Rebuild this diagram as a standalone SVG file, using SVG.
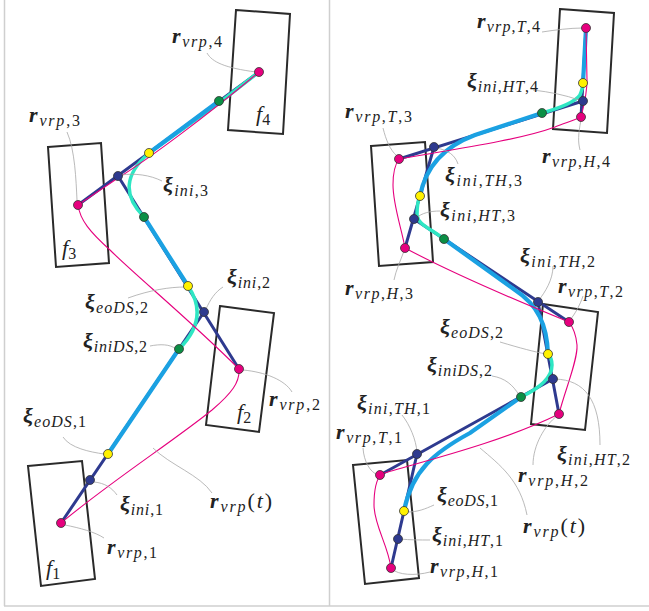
<svg xmlns="http://www.w3.org/2000/svg" width="649" height="611" viewBox="0 0 649 611">
<style>
.frame{stroke:#cfcfcf;stroke-width:1.5;fill:none}
.box{fill:none;stroke:#2a2a2a;stroke-width:2}
.nv{stroke:#2e3a8f;stroke-width:3;fill:none;stroke-linecap:round}
.bl{stroke:#1ba1e2;stroke-width:4.2;fill:none;stroke-linecap:round}
.tq{stroke:#2ee6c3;stroke-width:3.5;fill:none;stroke-linecap:round}
.pk{stroke:#e6007e;stroke-width:1.1;fill:none}
.ld{stroke:#a8a8a8;stroke-width:0.8;fill:none}
.d{stroke:#333;stroke-width:0.8}
.dp{fill:#e6007e}.dn{fill:#2e3a8f}.dy{fill:#fff200}.dg{fill:#0b8f45}
.t{font-family:"Liberation Serif","DejaVu Serif",serif;fill:#222}
.m{font-size:22px;font-weight:bold;font-style:italic}
.s{font-size:16px;font-style:italic;font-weight:normal}
.u{font-size:16px;font-style:normal;font-weight:normal}
.fi{font-size:22px;font-style:italic}
.pu{font-size:22px;font-style:normal;font-weight:normal}
.pi{font-size:22px;font-style:italic;font-weight:normal}
</style>
<rect width="649" height="611" fill="#fff"/>
<g id="frame">
<line class="frame" x1="4.5" y1="0" x2="4.5" y2="606"/>
<line class="frame" x1="329.5" y1="0" x2="329.5" y2="606"/>
<line class="frame" x1="4" y1="606" x2="649" y2="606"/>
</g>

<g id="L-f4"><polygon class="box" points="236,10 290,14 283,134 228,130"/><text class="t" x="256" y="121"><tspan class="fi">f</tspan><tspan class="u" dy="4">4</tspan></text></g>
<g id="L-f3"><polygon class="box" points="48,147 101,143 109,263 56,267"/><text class="t" x="62" y="255"><tspan class="fi">f</tspan><tspan class="u" dy="4">3</tspan></text></g>
<g id="L-f2"><polygon class="box" points="220,306 274,313 259,432 206,425"/><text class="t" x="237" y="419"><tspan class="fi">f</tspan><tspan class="u" dy="4">2</tspan></text></g>
<g id="L-f1"><polygon class="box" points="28,466 82,461 95,579 41,586"/><text class="t" x="46" y="575"><tspan class="fi">f</tspan><tspan class="u" dy="4">1</tspan></text></g>
<g id="R-f4"><polygon class="box" points="560,9 614,13 607,133 553,129"/></g>
<g id="R-f3"><polygon class="box" points="371,146 425,142 433,262 379,266"/></g>
<g id="R-f2"><polygon class="box" points="543,304 598,312 585,430 531,424"/></g>
<g id="R-f1"><polygon class="box" points="353,465 407,460 419,578 365,584"/></g>

<g id="connectors">
<path class="nv" d="M61,523 L204,312 M239,369 L118,176 M78,205 L259,72"/>
<path class="tq" d="M179,349 Q210,318 188,286 M144,217 Q112,185 149,153 L219,103 L259,72"/>
<path class="bl" d="M108,454 L179,349 M188,286 L144,217 M149,153 L219,101"/>
<path class="pk" d="M61,523 C110,482 175,440 212,410 C232,393 240,382 239,369"/>
<path class="pk" d="M239,369 C190,320 135,275 110,250 C90,232 80,220 78,205"/>
<path class="pk" d="M78,205 L118,178 C150,158 205,117 259,72"/>
<path class="nv" d="M391,568 L417,454 M380,475 L553,379 M559,414 L538,302 M569,322 L414,219 M405,248 L434,147 M399,159 L583,101 M581,117 L586,28"/>
<path class="tq" d="M521,397 C540,388 552,378 552,365 C552,360 550,356 548,354"/>
<path class="tq" d="M444,239 C430,228 418,225 417,215 C417,207 418,200 420,196"/>
<path class="tq" d="M542,113 C560,108 575,102 580,95 C582,90 583,86 583,83"/>
<path class="bl" d="M404,511 C412,470 435,452 470,433 L521,397"/>
<path class="bl" d="M548,354 C547,325 538,305 515,290 L444,239"/>
<path class="bl" d="M420,196 C425,170 440,148 475,135 L542,113"/>
<path class="bl" d="M583,83 L586,28"/>
<path class="pk" d="M391,568 C388,545 374,525 374,505 C374,490 376,480 381,474"/>
<path class="pk" d="M381,474 C420,462 500,443 559,414"/>
<path class="pk" d="M559,414 C565,390 578,360 577,345 C576,333 572,326 569,322"/>
<path class="pk" d="M569,322 C520,302 450,272 405,248"/>
<path class="pk" d="M405,248 C402,230 393,205 393,185 C393,172 396,163 399,159"/>
<path class="pk" d="M399,159 C450,150 520,140 555,127 C565,123 575,120 581,117"/>
<path class="pk" d="M581,117 C584,105 587,95 587,80 L586,28"/>
<path class="ld" d="M207,53 C212,62 225,68 256,72"/>
<path class="ld" d="M67,132 C75,150 76,180 77,200"/>
<path class="ld" d="M162,181 C150,175 135,173 121,175"/>
<path class="ld" d="M223,287 C215,292 210,300 206,309"/>
<path class="ld" d="M128,298 C150,290 170,287 185,287"/>
<path class="ld" d="M150,346 C160,344 170,344 176,349"/>
<path class="ld" d="M243,370 C265,372 285,380 292,392"/>
<path class="ld" d="M63,437 C70,448 90,452 104,454"/>
<path class="ld" d="M94,482 C105,483 112,488 117,495"/>
<path class="ld" d="M65,525 C80,528 95,532 104,538"/>
<path class="ld" d="M153,448 C170,465 200,475 212,493"/>
<path class="ld" d="M542,32 C555,30 570,28 583,28"/>
<path class="ld" d="M533,90 C550,92 565,95 579,100"/>
<path class="ld" d="M581,120 C578,135 578,142 580,150"/>
<path class="ld" d="M383,128 C386,140 390,150 397,156"/>
<path class="ld" d="M436,148 C448,150 455,155 458,164"/>
<path class="ld" d="M416,218 C422,213 430,211 440,211"/>
<path class="ld" d="M404,251 C400,262 396,270 394,280"/>
<path class="ld" d="M553,266 C553,280 545,292 539,300"/>
<path class="ld" d="M583,296 C580,305 575,314 570,320"/>
<path class="ld" d="M500,342 C520,348 535,352 546,354"/>
<path class="ld" d="M492,376 C505,378 513,385 519,395"/>
<path class="ld" d="M555,379 C585,380 600,400 600,445"/>
<path class="ld" d="M557,416 C545,425 533,445 533,465"/>
<path class="ld" d="M402,415 C410,425 416,440 417,452"/>
<path class="ld" d="M363,448 C364,462 370,472 378,475"/>
<path class="ld" d="M407,512 C418,512 425,509 434,505"/>
<path class="ld" d="M400,539 C410,540 420,540 430,540"/>
<path class="ld" d="M392,569 C398,575 415,576 430,572"/>
<path class="ld" d="M480,448 C500,465 520,480 527,515"/>
</g>

<g id="L-rvrp4"><circle class="d dp" cx="259" cy="72" r="4.5"/><text class="t" x="172" y="43" textLength="50" lengthAdjust="spacing"><tspan class="m">r</tspan><tspan class="s" dy="4">vrp</tspan><tspan class="u">,4</tspan></text></g>
<g id="L-rvrp3"><circle class="d dp" cx="78" cy="205" r="4.5"/><text class="t" x="29" y="122" textLength="51" lengthAdjust="spacing"><tspan class="m">r</tspan><tspan class="s" dy="4">vrp</tspan><tspan class="u">,3</tspan></text></g>
<g id="L-rvrp2"><circle class="d dp" cx="239" cy="369" r="4.5"/><text class="t" x="269" y="406" textLength="51" lengthAdjust="spacing"><tspan class="m">r</tspan><tspan class="s" dy="4">vrp</tspan><tspan class="u">,2</tspan></text></g>
<g id="L-rvrp1"><circle class="d dp" cx="61" cy="523" r="4.5"/><text class="t" x="107" y="554" textLength="50" lengthAdjust="spacing"><tspan class="m">r</tspan><tspan class="s" dy="4">vrp</tspan><tspan class="u">,1</tspan></text></g>
<g id="L-xiini3"><circle class="d dn" cx="118" cy="176" r="4.5"/><text class="t" x="163" y="192" textLength="45" lengthAdjust="spacing"><tspan class="m">ξ</tspan><tspan class="s" dy="4">ini</tspan><tspan class="u">,3</tspan></text></g>
<g id="L-xiini2"><circle class="d dn" cx="204" cy="312" r="4.5"/><text class="t" x="227" y="284" textLength="43" lengthAdjust="spacing"><tspan class="m">ξ</tspan><tspan class="s" dy="4">ini</tspan><tspan class="u">,2</tspan></text></g>
<g id="L-xiini1"><circle class="d dn" cx="90" cy="480" r="4.5"/><text class="t" x="120" y="511" textLength="43" lengthAdjust="spacing"><tspan class="m">ξ</tspan><tspan class="s" dy="4">ini</tspan><tspan class="u">,1</tspan></text></g>
<g id="L-xieo3"><circle class="d dy" cx="149" cy="153" r="4.5"/></g>
<g id="L-xieoDS2"><circle class="d dy" cx="188" cy="286" r="4.5"/><text class="t" x="85" y="309" textLength="63" lengthAdjust="spacing"><tspan class="m">ξ</tspan><tspan class="s" dy="4">eoDS</tspan><tspan class="u">,2</tspan></text></g>
<g id="L-xieoDS1"><circle class="d dy" cx="108" cy="454" r="4.5"/><text class="t" x="23" y="423" textLength="63" lengthAdjust="spacing"><tspan class="m">ξ</tspan><tspan class="s" dy="4">eoDS</tspan><tspan class="u">,1</tspan></text></g>
<g id="L-xiiniDS4"><circle class="d dg" cx="219" cy="101" r="4.5"/></g>
<g id="L-xiiniDS3"><circle class="d dg" cx="144" cy="217" r="4.5"/></g>
<g id="L-xiiniDS2"><circle class="d dg" cx="179" cy="349" r="4.5"/><text class="t" x="83" y="348" textLength="64" lengthAdjust="spacing"><tspan class="m">ξ</tspan><tspan class="s" dy="4">iniDS</tspan><tspan class="u">,2</tspan></text></g>
<g id="L-rvrpt"><text class="t" x="210" y="508" textLength="62" lengthAdjust="spacing"><tspan class="m">r</tspan><tspan class="s" dy="4">vrp</tspan><tspan class="pu" dy="-4">(</tspan><tspan class="pi">t</tspan><tspan class="pu">)</tspan></text></g>

<g id="R-rT4"><circle class="d dp" cx="586" cy="28" r="4.5"/><text class="t" x="477" y="28" textLength="63" lengthAdjust="spacing"><tspan class="m">r</tspan><tspan class="s" dy="4">vrp</tspan><tspan class="u">,</tspan><tspan class="s">T</tspan><tspan class="u">,4</tspan></text></g>
<g id="R-rH4"><circle class="d dp" cx="581" cy="117" r="4.5"/><text class="t" x="542" y="163" textLength="68" lengthAdjust="spacing"><tspan class="m">r</tspan><tspan class="s" dy="4">vrp</tspan><tspan class="u">,</tspan><tspan class="s">H</tspan><tspan class="u">,4</tspan></text></g>
<g id="R-rT3"><circle class="d dp" cx="399" cy="159" r="4.5"/><text class="t" x="345" y="118" textLength="67" lengthAdjust="spacing"><tspan class="m">r</tspan><tspan class="s" dy="4">vrp</tspan><tspan class="u">,</tspan><tspan class="s">T</tspan><tspan class="u">,3</tspan></text></g>
<g id="R-rH3"><circle class="d dp" cx="405" cy="248" r="4.5"/><text class="t" x="345" y="295" textLength="68" lengthAdjust="spacing"><tspan class="m">r</tspan><tspan class="s" dy="4">vrp</tspan><tspan class="u">,</tspan><tspan class="s">H</tspan><tspan class="u">,3</tspan></text></g>
<g id="R-rT2"><circle class="d dp" cx="569" cy="322" r="4.5"/><text class="t" x="558" y="293" textLength="65" lengthAdjust="spacing"><tspan class="m">r</tspan><tspan class="s" dy="4">vrp</tspan><tspan class="u">,</tspan><tspan class="s">T</tspan><tspan class="u">,2</tspan></text></g>
<g id="R-rH2"><circle class="d dp" cx="559" cy="414" r="4.5"/><text class="t" x="518" y="482" textLength="70" lengthAdjust="spacing"><tspan class="m">r</tspan><tspan class="s" dy="4">vrp</tspan><tspan class="u">,</tspan><tspan class="s">H</tspan><tspan class="u">,2</tspan></text></g>
<g id="R-rT1"><circle class="d dp" cx="380" cy="475" r="4.5"/><text class="t" x="336" y="439" textLength="66" lengthAdjust="spacing"><tspan class="m">r</tspan><tspan class="s" dy="4">vrp</tspan><tspan class="u">,</tspan><tspan class="s">T</tspan><tspan class="u">,1</tspan></text></g>
<g id="R-rH1"><circle class="d dp" cx="391" cy="568" r="4.5"/><text class="t" x="430" y="573" textLength="68" lengthAdjust="spacing"><tspan class="m">r</tspan><tspan class="s" dy="4">vrp</tspan><tspan class="u">,</tspan><tspan class="s">H</tspan><tspan class="u">,1</tspan></text></g>
<g id="R-xiHT4"><circle class="d dn" cx="583" cy="101" r="4.5"/><text class="t" x="467" y="88" textLength="71" lengthAdjust="spacing"><tspan class="m">ξ</tspan><tspan class="s" dy="4">ini</tspan><tspan class="u">,</tspan><tspan class="s">HT</tspan><tspan class="u">,4</tspan></text></g>
<g id="R-xiTH3"><circle class="d dn" cx="434" cy="147" r="4.5"/><text class="t" x="445" y="182" textLength="77" lengthAdjust="spacing"><tspan class="m">ξ</tspan><tspan class="s" dy="4">ini</tspan><tspan class="u">,</tspan><tspan class="s">TH</tspan><tspan class="u">,3</tspan></text></g>
<g id="R-xiHT3"><circle class="d dn" cx="414" cy="219" r="4.5"/><text class="t" x="440" y="217" textLength="75" lengthAdjust="spacing"><tspan class="m">ξ</tspan><tspan class="s" dy="4">ini</tspan><tspan class="u">,</tspan><tspan class="s">HT</tspan><tspan class="u">,3</tspan></text></g>
<g id="R-xiTH2"><circle class="d dn" cx="538" cy="302" r="4.5"/><text class="t" x="520" y="263" textLength="75" lengthAdjust="spacing"><tspan class="m">ξ</tspan><tspan class="s" dy="4">ini</tspan><tspan class="u">,</tspan><tspan class="s">TH</tspan><tspan class="u">,2</tspan></text></g>
<g id="R-xiHT2"><circle class="d dn" cx="553" cy="379" r="4.5"/><text class="t" x="557" y="461" textLength="73" lengthAdjust="spacing"><tspan class="m">ξ</tspan><tspan class="s" dy="4">ini</tspan><tspan class="u">,</tspan><tspan class="s">HT</tspan><tspan class="u">,2</tspan></text></g>
<g id="R-xiTH1"><circle class="d dn" cx="417" cy="454" r="4.5"/><text class="t" x="357" y="410" textLength="73" lengthAdjust="spacing"><tspan class="m">ξ</tspan><tspan class="s" dy="4">ini</tspan><tspan class="u">,</tspan><tspan class="s">TH</tspan><tspan class="u">,1</tspan></text></g>
<g id="R-xiHT1"><circle class="d dn" cx="398" cy="539" r="4.5"/><text class="t" x="432" y="542" textLength="71" lengthAdjust="spacing"><tspan class="m">ξ</tspan><tspan class="s" dy="4">ini</tspan><tspan class="u">,</tspan><tspan class="s">HT</tspan><tspan class="u">,1</tspan></text></g>
<g id="R-xieo4"><circle class="d dy" cx="583" cy="83" r="4.5"/></g>
<g id="R-xieo3"><circle class="d dy" cx="420" cy="196" r="4.5"/></g>
<g id="R-xieoDS2"><circle class="d dy" cx="548" cy="354" r="4.5"/><text class="t" x="440" y="334" textLength="63" lengthAdjust="spacing"><tspan class="m">ξ</tspan><tspan class="s" dy="4">eoDS</tspan><tspan class="u">,2</tspan></text></g>
<g id="R-xieoDS1"><circle class="d dy" cx="404" cy="511" r="4.5"/><text class="t" x="437" y="502" textLength="61" lengthAdjust="spacing"><tspan class="m">ξ</tspan><tspan class="s" dy="4">eoDS</tspan><tspan class="u">,1</tspan></text></g>
<g id="R-xiiniDS4"><circle class="d dg" cx="542" cy="113" r="4.5"/></g>
<g id="R-xiiniDS3"><circle class="d dg" cx="444" cy="239" r="4.5"/></g>
<g id="R-xiiniDS2"><circle class="d dg" cx="521" cy="397" r="4.5"/><text class="t" x="427" y="372" textLength="65" lengthAdjust="spacing"><tspan class="m">ξ</tspan><tspan class="s" dy="4">iniDS</tspan><tspan class="u">,2</tspan></text></g>
<g id="R-rvrpt"><text class="t" x="523" y="533" textLength="62" lengthAdjust="spacing"><tspan class="m">r</tspan><tspan class="s" dy="4">vrp</tspan><tspan class="pu" dy="-4">(</tspan><tspan class="pi">t</tspan><tspan class="pu">)</tspan></text></g>
</svg>
